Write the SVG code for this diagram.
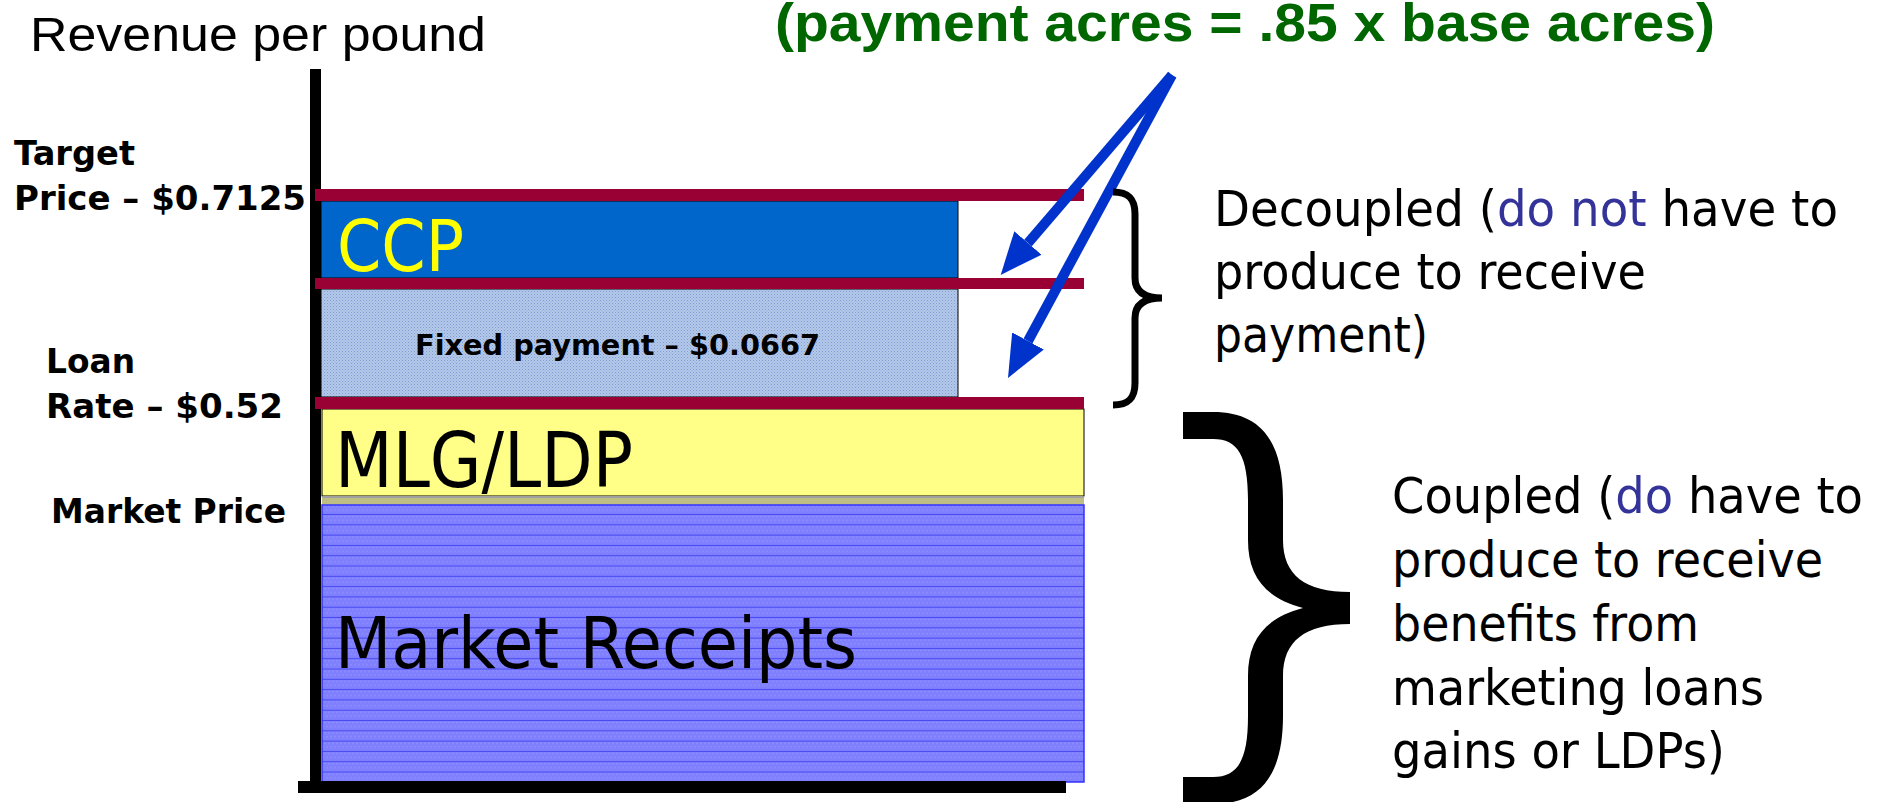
<svg xmlns="http://www.w3.org/2000/svg" width="1887" height="802" viewBox="0 0 1887 802">
<style>
.lbl{font-family:"DejaVu Sans","Liberation Sans",sans-serif;font-weight:bold;font-size:34px;fill:#000}
.cond{font-family:"DejaVu Sans Condensed","DejaVu Sans",sans-serif}
.rt{font-family:"DejaVu Sans","Liberation Sans",sans-serif;font-size:50px;fill:#000}
.blue{fill:#333399}
.bar{fill:#990033}
.axis{fill:#000}
.arrow{stroke:#0033CC;stroke-width:10;fill:none}
</style>
<defs>
<pattern id="dots" patternUnits="userSpaceOnUse" width="3" height="3">
<rect width="3" height="3" fill="#B4C8EA"/>
<rect width="1" height="1" fill="#7E9CD2"/>
<rect x="1.5" y="1.5" width="1" height="1" fill="#8FAAD8"/>
</pattern>
<pattern id="hlines" patternUnits="userSpaceOnUse" width="4" height="10.3">
<rect width="4" height="10.3" fill="#8080FF"/>
<rect x="0" y="1" width="2" height="1" fill="#9090FF"/>
<rect x="2" y="5" width="2" height="1" fill="#9090FF"/>
<rect y="9.3" width="4" height="1" fill="#4848F0"/>
</pattern>
<marker id="ah" viewBox="0 -18 42 36" refX="0" refY="0" markerWidth="42" markerHeight="36" markerUnits="userSpaceOnUse" orient="auto">
<path d="M0,-18 L42,0 L0,18 z" fill="#0033CC"/>
</marker>
</defs>
<rect width="1887" height="802" fill="#fff"/>

<g id="title">
<text x="30" y="51" font-family="Liberation Sans, Arial, sans-serif" font-size="48" textLength="456" lengthAdjust="spacingAndGlyphs">Revenue per pound</text>
</g>
<g id="subtitle">
<text x="775" y="41" font-family="Liberation Sans Narrow, Liberation Sans, sans-serif" font-weight="bold" font-size="53" fill="#006600" textLength="940" lengthAdjust="spacingAndGlyphs">(payment acres = .85 x base acres)</text>
</g>

<g id="ccp">
<rect x="321" y="201" width="637" height="77" fill="#0066CC" stroke="#000" stroke-width="1"/>
<text class="cond" x="337" y="271" font-size="72" fill="#FFFF00" textLength="127" lengthAdjust="spacingAndGlyphs">CCP</text>
</g>
<g id="fixed-payment">
<rect x="321" y="289" width="637" height="108" fill="url(#dots)" stroke="#000" stroke-width="1"/>
<text class="cond" x="415" y="355" font-size="29" font-weight="bold" fill="#000" textLength="405" lengthAdjust="spacingAndGlyphs">Fixed payment – $0.0667</text>
</g>
<g id="mlg-ldp">
<rect x="322" y="409" width="762" height="87" fill="#FFFF88" stroke="#000" stroke-width="1"/>
<rect x="322" y="496" width="762" height="9" fill="#BDBD84"/>
<rect x="322" y="496" width="762" height="2" fill="#A0A0A0"/>
<text class="cond" x="335" y="487" font-size="76" fill="#000" textLength="298" lengthAdjust="spacingAndGlyphs">MLG/LDP</text>
</g>
<g id="market-receipts">
<rect x="322" y="505" width="762" height="277" fill="url(#hlines)" stroke="#3333FF" stroke-width="1.5"/>
<text class="cond" x="335" y="668" font-size="72" fill="#000" textLength="522" lengthAdjust="spacingAndGlyphs">Market Receipts</text>
</g>

<g id="axes">
<rect class="axis" x="310" y="69" width="11" height="724"/>
<rect class="axis" x="298" y="781" width="768" height="12"/>
</g>

<g id="price-lines">
<rect class="bar" x="315" y="189" width="769" height="12"/>
<rect class="bar" x="315" y="278" width="769" height="11"/>
<rect class="bar" x="315" y="397" width="769" height="12"/>
</g>

<g id="axis-labels">
<text class="lbl" x="14" y="165" textLength="121" lengthAdjust="spacingAndGlyphs">Target</text>
<text class="lbl" x="14" y="210" textLength="292" lengthAdjust="spacingAndGlyphs">Price – $0.7125</text>
<text class="lbl" x="46" y="373" textLength="89" lengthAdjust="spacingAndGlyphs">Loan</text>
<text class="lbl" x="46" y="418" textLength="237" lengthAdjust="spacingAndGlyphs">Rate – $0.52</text>
<text class="lbl" x="51" y="523" textLength="235" lengthAdjust="spacingAndGlyphs">Market Price</text>
</g>

<g id="connectors">
<line class="arrow" x1="1172" y1="75" x2="1028" y2="243" marker-end="url(#ah)"/>
<line class="arrow" x1="1172" y1="75" x2="1028" y2="341" marker-end="url(#ah)"/>
</g>

<g id="decoupled-brace">
<path d="M1113,192 C1128,192 1135,198 1135,214 L1135,278 C1135,292 1145,298 1162,298 C1145,298 1135,304 1135,318 L1135,383 C1135,399 1128,405 1113,405" fill="none" stroke="#000" stroke-width="7"/>
</g>
<g id="decoupled">
<text class="rt cond" x="1214" y="226" font-size="50" textLength="624" lengthAdjust="spacingAndGlyphs">Decoupled (<tspan class="blue">do not</tspan> have to</text>
<text class="rt cond" x="1214" y="289" font-size="50" textLength="432" lengthAdjust="spacingAndGlyphs">produce to receive</text>
<text class="rt cond" x="1214" y="352" font-size="50" textLength="214" lengthAdjust="spacingAndGlyphs">payment)</text>
</g>

<g id="coupled-brace">
<path d="M1183,412 L1213,412 C1260,412 1283,440 1283,500 L1283,540 C1283,575 1305,592 1350,592 L1350,624 C1305,624 1283,641 1283,676 L1283,716 C1283,776 1260,804 1213,804 L1183,804 L1183,777 L1213,777 C1238,777 1248,760 1248,716 L1248,676 C1248,640 1265,618 1303,608 C1265,598 1248,576 1248,540 L1248,500 C1248,456 1238,439 1213,439 L1183,439 Z" fill="#000"/>
</g>
<g id="coupled">
<text class="rt" x="1392" y="513" textLength="471" lengthAdjust="spacingAndGlyphs">Coupled (<tspan class="blue">do</tspan> have to</text>
<text class="rt" x="1392" y="577" textLength="431" lengthAdjust="spacingAndGlyphs">produce to receive</text>
<text class="rt" x="1392" y="641" textLength="307" lengthAdjust="spacingAndGlyphs">benefits from</text>
<text class="rt" x="1392" y="705" textLength="372" lengthAdjust="spacingAndGlyphs">marketing loans</text>
<text class="rt" x="1392" y="768" textLength="333" lengthAdjust="spacingAndGlyphs">gains or LDPs)</text>
</g>
</svg>
